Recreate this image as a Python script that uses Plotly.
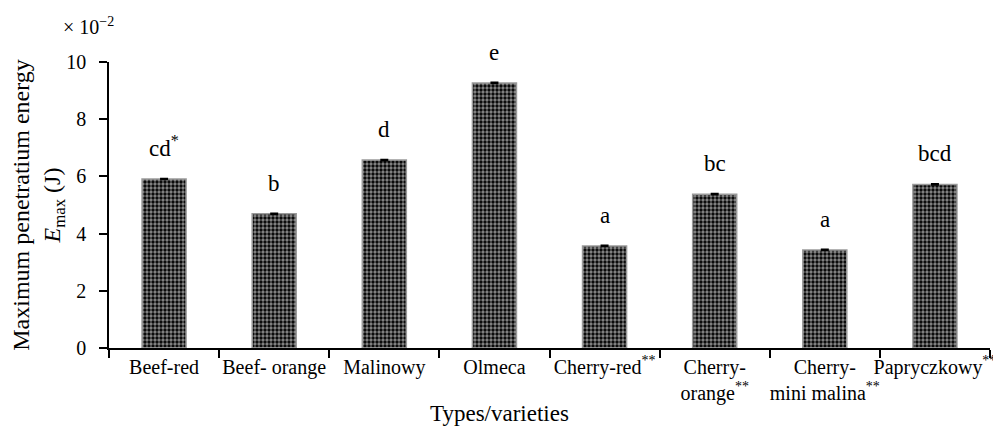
import plotly.graph_objects as go

categories = ["Beef-red", "Beef- orange", "Malinowy", "Olmeca", "Cherry-red<sup>**</sup>",
              "Cherry-<br>orange<sup>**</sup>", "Cherry-<br>mini malina<sup>**</sup>", "Papryczkowy<sup>**</sup>"]
values = [5.91, 4.69, 6.57, 9.27, 3.57, 5.38, 3.43, 5.72]
errors = [0.02, 0.02, 0.02, 0.02, 0.02, 0.02, 0.02, 0.02]
letters = ["cd<sup>*</sup>", "b", "d", "e", "a", "bc", "a", "bcd"]
yticks = [0, 2, 4, 6, 8, 10]

FONT = "Liberation Serif"

fig = go.Figure()
fig.add_trace(go.Bar(
    x=categories, y=values, width=0.4,
    marker=dict(color="black", line=dict(color="#9a9a9a", width=1.5),
                pattern=dict(shape=".", fgcolor="white", bgcolor="black", size=4, solidity=0.55)),
    error_y=dict(type="data", array=errors, color="black", thickness=1.5, width=4),
))

for c, v, t in zip(categories, values, letters):
    fig.add_annotation(x=c, y=v, text=t, showarrow=False, yanchor="bottom", yshift=16,
                       font=dict(family=FONT, size=23, color="black"))

fig.add_annotation(xref="paper", yref="paper", x=-0.054, y=1.125, xanchor="left", yanchor="middle",
                   text="× 10<sup>−2</sup>", showarrow=False,
                   font=dict(family=FONT, size=20, color="black"))

fig.add_annotation(xref="paper", yref="paper", x=0.4427, y=-0.2797, xanchor="center", yanchor="bottom",
                   text="Types/varieties", showarrow=False,
                   font=dict(family=FONT, size=23, color="black"))

fig.update_layout(
    width=993, height=420,
    margin=dict(l=101, r=11, t=54, b=80),
    plot_bgcolor="white", paper_bgcolor="white",
    showlegend=False,
    font=dict(family=FONT, size=20, color="black"),
    xaxis=dict(showline=True, linecolor="black", linewidth=1.5, ticks="outside", tickson="boundaries",
               ticklen=8, tickwidth=1.5, tickcolor="black", tickangle=0, automargin=False,
               tickfont=dict(family=FONT, size=20)),
    yaxis=dict(range=[0, 10], tickvals=yticks, showline=True, linecolor="black", linewidth=1.5,
               ticks="outside", ticklen=8, tickwidth=1.5, tickcolor="black", showgrid=False, zeroline=False,
               ticklabelstandoff=9, automargin=False,
               title=dict(text="Maximum penetratium energy<br><i>E</i><sub>max</sub> (J)",
                          font=dict(family=FONT, size=24), standoff=4),
               tickfont=dict(family=FONT, size=20)),
)

fig.write_html("out.html")
